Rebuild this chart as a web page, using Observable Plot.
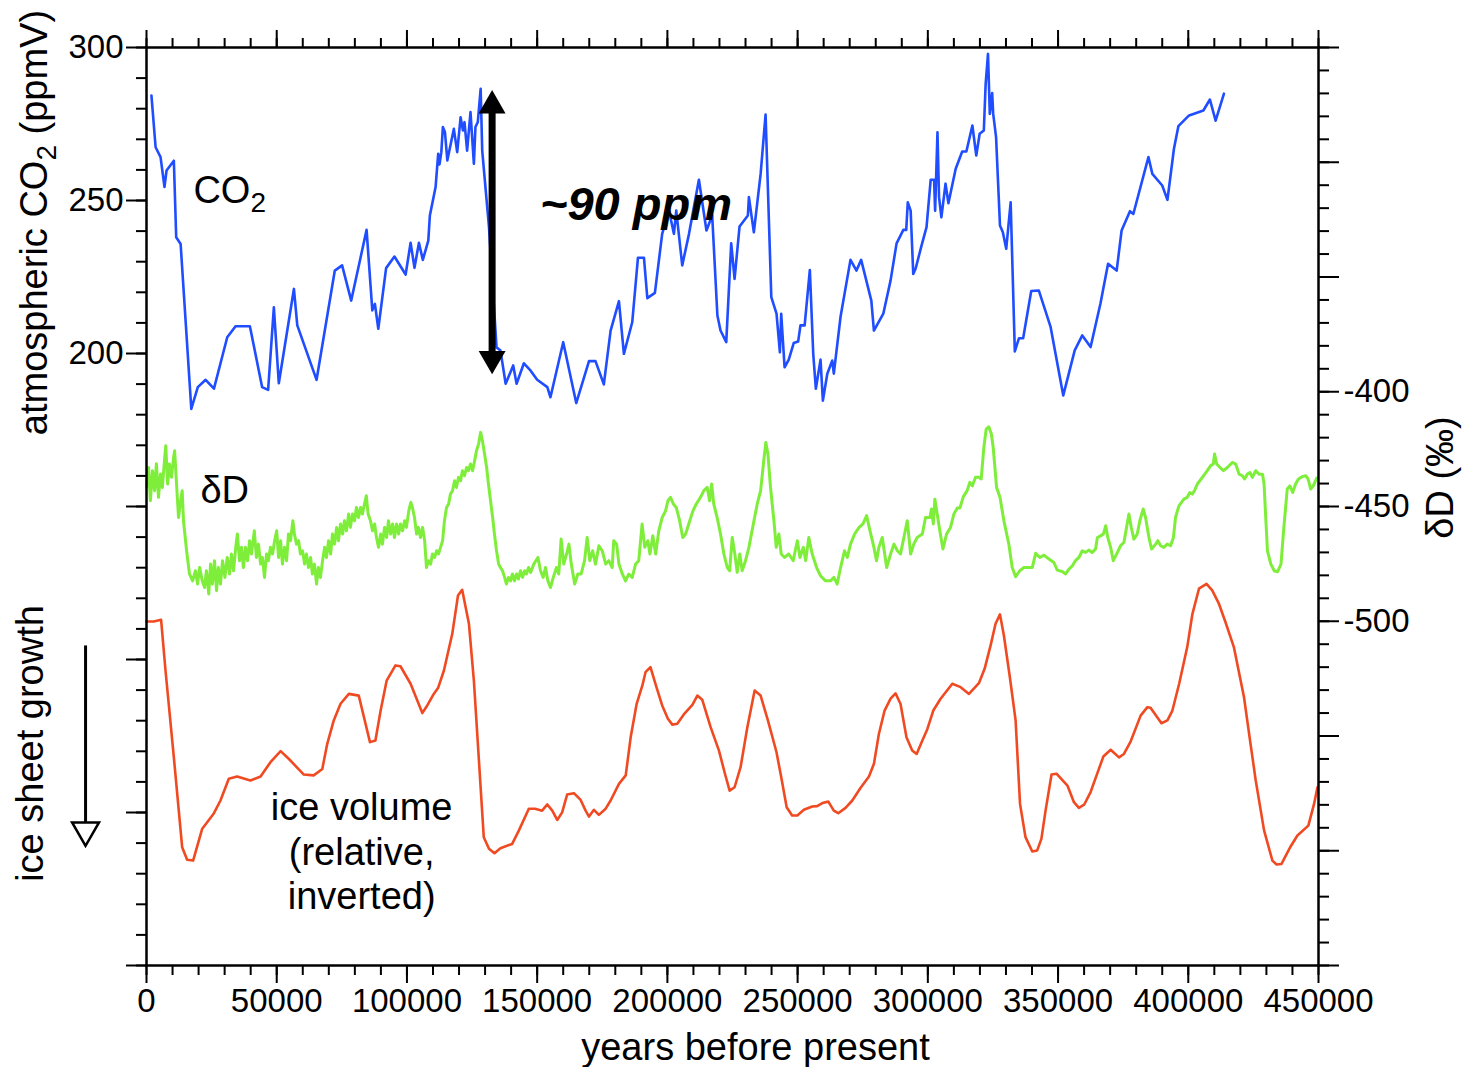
<!DOCTYPE html>
<html>
<head>
<meta charset="utf-8">
<script src="https://cdn.jsdelivr.net/npm/d3@7"></script>
<script src="https://cdn.jsdelivr.net/npm/@observablehq/plot@0.6"></script>
<style>
  html, body { margin: 0; padding: 0; background: white; }
  #chart svg { display: block; }
</style>
</head>
<body>
<div id="chart"></div>
<script>
// ---------- DATA (ages in kyr before present) ----------
// Atmospheric CO2 (ppmV)
const co2 = [[1.9,284.3],[3.5,267.4],[5.4,264.2],[6.9,254.4],[7.7,259.8],[10.5,263.0],[11.4,238.0],[13.1,235.8],[17.2,181.9],[19.7,189.0],[22.7,191.4],[25.9,188.5],[31.0,205.3],[34.2,208.9],[39.7,208.9],[44.4,189.0],[46.7,188.1],[48.9,215.1],[50.8,190.3],[56.6,221.1],[57.9,209.2],[65.3,191.4],[72.3,227.1],[75.1,228.8],[78.6,217.3],[84.5,240.4],[86.7,214.1],[87.7,216.2],[89.0,208.1],[92.0,227.9],[95.2,231.7],[99.5,225.8],[101.4,236.2],[102.9,228.0],[104.6,236.2],[106.1,230.6],[108.2,236.9],[108.8,245.1],[111.0,254.4],[112.0,265.3],[112.5,261.8],[113.2,265.8],[113.8,274.0],[114.6,272.3],[115.5,263.1],[118.0,273.4],[119.3,265.8],[120.6,277.2],[121.5,272.9],[122.1,275.6],[123.1,266.3],[124.4,278.9],[125.7,262.0],[126.3,274.0],[127.2,275.6],[128.3,286.5],[128.9,266.3],[131.5,241.3],[134.4,202.0],[135.9,201.0],[137.9,190.1],[140.8,196.1],[142.1,190.1],[144.9,196.8],[147.5,194.4],[150.0,191.4],[153.9,189.0],[155.1,185.7],[160.0,203.7],[165.0,183.8],[169.9,197.5],[172.4,197.5],[175.6,189.9],[178.2,207.5],[181.4,217.1],[183.3,199.9],[186.5,210.2],[188.7,231.3],[191.0,231.3],[192.3,218.1],[195.2,219.8],[198.0,239.1],[200.6,246.7],[202.5,239.1],[203.4,246.7],[205.7,228.8],[208.3,239.1],[212.1,256.8],[215.0,240.2],[217.2,245.1],[219.2,212.4],[220.4,207.5],[222.6,203.7],[224.5,236.0],[225.8,224.4],[227.7,241.5],[230.9,245.1],[231.3,251.1],[233.2,239.6],[235.8,258.7],[237.7,278.1],[239.9,218.4],[241.9,213.0],[243.2,200.4],[243.7,213.0],[245.0,195.5],[246.6,198.0],[248.5,203.4],[250.2,203.9],[251.1,209.2],[252.7,209.2],[254.7,227.3],[256.0,199.9],[257.0,188.5],[258.8,198.0],[259.7,184.6],[261.4,193.4],[263.3,197.7],[263.9,193.4],[266.5,212.1],[270.3,230.6],[272.6,227.1],[274.4,230.6],[278.3,217.3],[279.3,207.5],[282.9,213.0],[285.7,223.9],[288.0,236.0],[290.6,240.4],[291.7,240.4],[292.3,249.4],[293.4,246.7],[294.4,226.0],[295.3,227.7],[297.5,235.0],[299.5,241.3],[301.1,256.8],[302.4,256.8],[302.8,246.7],[303.7,272.3],[304.3,251.1],[305.2,244.5],[306.8,255.5],[307.9,249.1],[310.7,260.4],[313.2,266.0],[314.8,266.0],[317.1,274.5],[318.6,264.7],[319.9,271.8],[321.5,272.9],[322.2,288.1],[323.1,297.9],[323.8,278.3],[324.7,285.1],[325.1,278.3],[326.2,270.7],[327.7,241.8],[328.8,239.6],[330.1,234.2],[331.8,249.4],[333.4,200.7],[335.0,205.0],[336.6,205.0],[339.7,220.4],[342.6,220.6],[347.1,208.8],[352.0,186.3],[356.4,201.0],[359.3,205.9],[362.5,202.1],[366.3,216.4],[369.2,229.3],[372.5,227.1],[374.4,240.2],[377.6,246.5],[378.9,245.6],[384.7,264.2],[386.2,258.7],[390.0,254.9],[392.0,250.2],[394.5,266.9],[396.2,274.3],[400.3,277.8],[405.8,279.4],[408.3,283.0],[410.5,276.1],[413.7,284.9]];

// Deuterium deltaD (permil)
const deltaD = [[0.0,-441.7],[0.8,-433],[1.5,-447.5],[2.3,-434.4],[3.1,-443.1],[3.8,-431.4],[4.6,-446],[5.4,-435.8],[6.1,-441.7],[6.9,-430],[7.4,-423.5],[8.1,-440.2],[8.8,-431.5],[9.6,-437.3],[10.4,-428.6],[10.8,-425.7],[11.5,-439.5],[12.3,-454.8],[13.1,-447.5],[13.7,-443.1],[14.2,-456.2],[15.4,-469.3],[16.5,-479.4],[17.7,-482.4],[18.8,-478],[19.6,-483.8],[20.4,-476.6],[21.4,-482.4],[22.3,-485.3],[23.0,-478],[23.9,-488.1],[24.6,-475.1],[25.3,-483.8],[26.1,-473.6],[26.9,-486.7],[27.6,-476.6],[28.4,-483.8],[29.2,-473.6],[30.1,-480.9],[31.0,-472.2],[31.9,-479.4],[32.6,-470.7],[33.4,-478],[34.4,-466.4],[34.9,-462],[35.7,-473.6],[36.5,-467.8],[37.2,-476.6],[38.0,-467.8],[38.8,-473.6],[39.6,-464.9],[40.3,-470.7],[41.4,-460.6],[42.2,-472.2],[43.0,-466.4],[43.8,-475.1],[44.5,-472.2],[45.3,-480.9],[46.1,-470.7],[46.8,-473.6],[47.6,-467.8],[48.4,-470.7],[49.2,-464.9],[50.0,-460.6],[50.7,-472.2],[51.5,-464.9],[52.2,-475.1],[53.0,-467.8],[53.8,-473.6],[54.5,-462],[55.3,-464.9],[56.2,-456.2],[56.8,-462],[57.6,-466.4],[58.4,-464.9],[59.1,-470.7],[59.9,-469.3],[60.7,-475.1],[61.4,-470.7],[62.2,-476.6],[63.0,-472.2],[63.7,-479.4],[64.5,-475.1],[65.3,-483.8],[66.0,-476.6],[66.8,-480.9],[67.6,-473.6],[68.4,-467.8],[69.1,-472.2],[69.9,-464.9],[70.7,-470.7],[71.4,-462],[72.2,-466.4],[73.0,-459.1],[73.7,-464.9],[74.5,-457.6],[75.3,-462],[76.0,-456.2],[76.8,-460.6],[77.6,-453.3],[78.3,-459.1],[79.1,-453.3],[79.9,-456.2],[80.6,-450.4],[81.4,-454.8],[82.2,-450.4],[82.9,-453.3],[83.7,-448.9],[84.4,-445.3],[85.1,-453.3],[86.0,-456.2],[86.8,-460.6],[87.6,-457.6],[88.3,-463.5],[89.1,-467.8],[89.9,-462],[90.6,-466.4],[91.4,-459.1],[92.2,-463.5],[92.9,-456.2],[93.7,-462],[94.5,-457.6],[95.2,-463.5],[96.0,-457.6],[96.8,-462],[97.5,-457.6],[98.3,-460.6],[99.1,-456.2],[99.8,-459.1],[100.7,-451.9],[101.5,-448.2],[102.1,-450.4],[102.9,-454.8],[103.7,-462],[104.4,-459.1],[105.2,-463.5],[106.0,-459.1],[106.8,-464.9],[107.5,-476.6],[108.3,-473.6],[109.1,-475.1],[109.8,-470.7],[110.6,-472.2],[111.4,-469.3],[112.1,-470.7],[112.9,-467.8],[113.7,-464.9],[114.4,-456.2],[115.2,-450.4],[116.0,-448.9],[116.7,-444.6],[117.5,-443.1],[118.3,-438.8],[119.0,-441.7],[119.8,-437.3],[120.6,-438.8],[121.3,-434.4],[122.1,-436.6],[122.9,-433],[123.6,-434.4],[124.4,-431.5],[125.2,-434.4],[126.0,-430],[126.7,-425.7],[127.5,-422.8],[128.3,-417.7],[129.0,-421.4],[129.8,-427.1],[130.6,-433],[131.3,-440.2],[132.1,-447.5],[132.9,-454.8],[133.6,-462],[134.4,-469.3],[135.2,-475.1],[135.9,-476.6],[136.7,-478],[137.5,-480.9],[138.2,-483.8],[139.0,-480.9],[139.8,-482.4],[140.5,-479.4],[141.3,-482.4],[142.1,-479.4],[142.8,-481.6],[143.6,-478],[144.4,-480.9],[145.2,-478],[145.9,-479.4],[146.7,-476.6],[147.5,-478.7],[148.7,-475.1],[150.3,-472.2],[151.3,-478],[152.3,-480.9],[153.2,-476.6],[154.1,-482.4],[155.1,-485.3],[156.2,-480.9],[157.4,-476.6],[158.3,-479.4],[159.2,-464.2],[160.2,-475.1],[161.3,-470.7],[162.2,-466.4],[163.1,-475.1],[164.4,-483.8],[165.6,-479.4],[166.9,-479.4],[168.2,-473.6],[169.2,-463.5],[170.2,-473.6],[171.3,-469.3],[172.4,-475.1],[173.7,-467.1],[175.0,-469.3],[176.3,-475.1],[177.5,-473.6],[178.8,-476.6],[179.4,-464.9],[180.5,-466.4],[181.4,-475.1],[182.7,-479.4],[183.9,-482.4],[185.2,-479.4],[186.5,-480.9],[187.8,-475.1],[189.0,-473.6],[190.3,-457.6],[191.3,-467.8],[192.5,-464.9],[193.3,-470.7],[194.4,-462.7],[195.5,-470.7],[196.7,-460.6],[198.0,-454.8],[199.3,-451.9],[200.2,-447.5],[201.2,-446.0],[202.3,-448.9],[203.4,-450.4],[204.7,-456.2],[205.9,-463.5],[207.0,-462.0],[208.2,-457.6],[209.8,-451.9],[211.1,-448.9],[212.7,-446.0],[214.0,-443.1],[215.3,-441.7],[216.2,-447.5],[217.0,-440.2],[217.8,-448.9],[219.1,-454.8],[220.4,-462.0],[221.7,-470.7],[223.0,-476.6],[223.9,-478.0],[224.9,-463.5],[225.9,-470.7],[226.8,-478.7],[227.8,-470.7],[228.7,-478.0],[230.0,-473.6],[231.3,-467.8],[233.0,-457.6],[234.5,-448.9],[235.8,-443.1],[237.0,-430.0],[237.8,-422.1],[238.6,-427.1],[239.6,-441.7],[240.9,-456.2],[241.8,-467.8],[242.8,-462.0],[243.7,-470.7],[245.0,-472.2],[246.6,-470.7],[248.3,-473.6],[249.9,-464.9],[250.9,-472.2],[252.2,-467.8],[253.1,-473.6],[254.3,-463.5],[255.6,-470.7],[257.3,-476.6],[258.8,-480.2],[260.7,-482.4],[262.7,-482.4],[263.9,-480.9],[265.2,-483.8],[266.5,-476.6],[268.0,-469.3],[269.1,-472.2],[270.3,-466.4],[271.9,-462.0],[273.6,-459.1],[275.1,-457.6],[276.5,-454.0],[277.8,-460.6],[279.3,-467.8],[280.3,-473.6],[281.2,-467.8],[282.5,-463.5],[284.2,-476.6],[285.7,-470.7],[287.0,-466.4],[288.3,-469.3],[289.5,-470.7],[290.8,-463.5],[292.1,-456.2],[293.4,-470.7],[294.6,-466.4],[295.9,-463.5],[297.9,-462.0],[299.1,-454.8],[300.8,-454.8],[301.4,-451.1],[302.1,-457.6],[302.7,-446.8],[303.6,-453.3],[304.6,-460.6],[305.8,-468.5],[307.2,-462.0],[308.7,-459.1],[310.0,-453.3],[311.3,-450.7],[312.3,-450.7],[313.6,-445.8],[315.1,-443.1],[316.1,-439.5],[317.1,-441.0],[318.3,-437.3],[319.6,-437.3],[320.5,-438.0],[321.5,-424.3],[322.4,-416.3],[323.4,-415.3],[324.4,-418.4],[325.1,-424.3],[326.4,-441.7],[327.7,-446.0],[329.2,-456.2],[331.1,-466.4],[332.4,-476.6],[333.7,-480.6],[335.3,-478.0],[336.9,-476.6],[338.8,-476.6],[340.1,-476.6],[341.4,-470.4],[343.0,-472.2],[344.6,-471.2],[346.5,-472.9],[348.4,-474.4],[349.7,-477.7],[351.6,-478.3],[352.9,-479.4],[354.2,-477.3],[355.5,-475.8],[356.7,-473.6],[358.0,-472.2],[359.3,-469.3],[360.6,-470.0],[361.8,-469.0],[363.1,-470.0],[364.4,-468.5],[365.1,-463.5],[366.3,-462.8],[367.4,-462.0],[368.3,-458.4],[369.1,-463.5],[370.2,-467.8],[371.2,-473.6],[372.8,-470.0],[374.0,-467.1],[375.3,-465.6],[376.3,-459.1],[377.2,-453.3],[378.1,-459.1],[379.1,-464.2],[380.4,-462.0],[381.4,-456.2],[382.7,-451.1],[383.6,-454.8],[384.9,-463.5],[385.9,-468.5],[387.5,-466.4],[388.3,-464.9],[389.4,-467.1],[390.6,-467.8],[391.9,-466.4],[393.2,-467.1],[394.3,-463.5],[395.1,-454.8],[396.4,-449.7],[398.3,-446.8],[399.6,-446.0],[400.6,-443.9],[401.5,-444.6],[402.4,-443.1],[403.5,-440.2],[405.4,-437.3],[407.3,-434.4],[408.6,-432.2],[409.6,-431.5],[410.1,-427.1],[410.9,-431.5],[412.2,-433.0],[413.5,-434.4],[415.0,-433.0],[416.9,-430.8],[418.2,-431.5],[419.5,-435.9],[420.8,-436.6],[421.6,-438.0],[422.7,-435.9],[423.7,-435.2],[424.6,-437.3],[425.9,-434.4],[427.2,-435.9],[428.5,-435.9],[429.1,-440.2],[429.8,-456.2],[430.4,-469.3],[431.7,-475.1],[433.0,-478.0],[434.3,-478.4],[435.6,-475.1],[436.7,-459.1],[438.0,-442.4],[439.0,-441.0],[440.1,-443.9],[441.2,-440.2],[442.3,-438.0],[443.8,-437.0],[445.1,-436.6],[446.0,-438.0],[447.0,-442.4],[448.0,-441.0],[449.3,-437.6]];

// Ice volume (relative, 0 = least ice, 1 = most ice)
const iceVolume = [[0.0,0.138],[2.8,0.138],[5.6,0.132],[7.3,0.312],[10.5,0.620],[13.7,0.939],[15.6,0.983],[17.9,0.986],[21.4,0.873],[23.3,0.850],[25.9,0.818],[28.4,0.773],[31.6,0.696],[34.8,0.688],[39.9,0.702],[43.8,0.688],[47.6,0.637],[51.5,0.598],[54.6,0.625],[60.4,0.681],[64.2,0.684],[67.5,0.661],[69.4,0.572],[71.9,0.489],[74.5,0.430],[77.7,0.395],[81.5,0.401],[83.5,0.478],[85.8,0.566],[87.9,0.560],[89.9,0.454],[92.2,0.348],[95.6,0.294],[97.5,0.297],[101.4,0.359],[105.9,0.463],[107.8,0.436],[110.3,0.395],[112.0,0.373],[114.2,0.312],[117.4,0.182],[119.6,0.046],[121.2,0.026],[123.8,0.146],[125.7,0.348],[129.5,0.903],[131.5,0.944],[133.6,0.960],[135.9,0.942],[140.4,0.927],[143.0,0.879],[146.8,0.802],[149.2,0.802],[151.9,0.809],[153.9,0.787],[155.8,0.809],[157.7,0.842],[159.6,0.815],[161.5,0.752],[164.1,0.747],[166.7,0.771],[168.6,0.809],[169.9,0.830],[171.8,0.806],[173.7,0.824],[176.3,0.802],[178.2,0.773],[181.4,0.714],[184.0,0.684],[185.9,0.549],[188.2,0.430],[190.4,0.365],[191.6,0.318],[193.5,0.300],[195.8,0.371],[198.0,0.436],[200.2,0.483],[201.9,0.504],[203.8,0.501],[206.3,0.468],[209.6,0.434],[211.5,0.401],[213.4,0.416],[216.6,0.513],[219.8,0.596],[222.1,0.678],[223.9,0.738],[225.8,0.726],[228.1,0.655],[230.7,0.513],[233.5,0.383],[235.8,0.401],[238.6,0.489],[241.9,0.602],[243.7,0.690],[245.8,0.797],[247.9,0.826],[249.9,0.826],[252.4,0.806],[255.6,0.794],[257.5,0.793],[259.5,0.782],[261.8,0.777],[263.9,0.809],[265.6,0.818],[268.4,0.799],[271.0,0.773],[274.2,0.728],[277.4,0.688],[279.3,0.643],[281.2,0.537],[283.4,0.454],[285.7,0.412],[287.6,0.393],[289.5,0.430],[291.8,0.549],[294.0,0.596],[295.7,0.608],[297.9,0.560],[299.8,0.520],[302.1,0.454],[304.9,0.412],[309.4,0.359],[312.6,0.371],[315.8,0.395],[319.6,0.357],[321.8,0.306],[324.1,0.223],[326.0,0.146],[327.7,0.113],[329.2,0.188],[331.5,0.336],[333.7,0.489],[335.4,0.785],[337.5,0.903],[340.1,0.954],[342.0,0.950],[343.6,0.909],[345.2,0.809],[347.5,0.681],[349.4,0.678],[351.6,0.700],[353.6,0.720],[356.1,0.779],[358.0,0.799],[360.0,0.788],[362.5,0.743],[365.1,0.676],[367.4,0.617],[370.2,0.593],[373.4,0.620],[375.3,0.608],[377.9,0.563],[381.7,0.472],[384.3,0.442],[385.5,0.444],[389.7,0.499],[392.0,0.489],[393.9,0.454],[396.5,0.359],[399.6,0.229],[401.6,0.111],[404.1,0.022],[407.0,0.005],[409.2,0.028],[411.8,0.076],[414.3,0.141],[417.5,0.229],[421.4,0.407],[423.9,0.572],[425.9,0.702],[429.1,0.879],[432.3,0.986],[433.9,1.000],[435.8,0.998],[439.3,0.936],[441.9,0.897],[446.1,0.862],[448.3,0.785],[449.6,0.726]];

// Axis ticks and labels
const xMajorTicks = [0, 50000, 100000, 150000, 200000, 250000, 300000, 350000, 400000, 450000];
const xMinorTicks = d3.range(0, 450001, 10000);
const co2MajorTicks = [0, 50, 100, 150, 200, 250, 300];
const co2MinorTicks = d3.range(0, 301, 10);
const co2Labelled = [200, 250, 300];
const dDMajorTicks = [-650, -600, -550, -500, -450, -400, -350, -300, -250];
const dDMinorTicks = d3.range(-650, -249, 10);
const dDLabelled = [-500, -450, -400];

// Annotations (age kyr, value on the CO2 axis)
const seriesLabels = [
  {text: "CO\u2082", age: 18.0, y: 253.3},
  {text: "\u03B4D", age: 20.7, y: 155.2}
];
const iceLabel = [{text: "ice volume\n(relative,\ninverted)", age: 82.6, y: 37.6}];
const rangeLabel = [{text: "~90 ppm", age: 151.1, y: 248.4}];
const rangeArrow = [{age: 132.7, top: 281.0, bottom: 198.3}];
const growthArrow = [{age: -23.4, top: 104.6, bottom: 46.7, head: 44.2}];

// ---------- mappings of the secondary series onto the shared y scale ----------
const dDToY = v => (v + 650) * 0.75;             // right axis: -650..-250 permil
const yToDD = y => Math.round(y / 0.75 - 650);
const iceToY = v => 125.16 - 92.16 * v;            // inverted relative ice volume

const FONT = "'Liberation Sans', Arial, Helvetica, sans-serif";
const yrs = a => a * 1000;

const plot = Plot.plot({
  width: 1462,
  height: 1067,
  marginLeft: 146,
  marginRight: 144,
  marginTop: 47,
  marginBottom: 102,
  x: {domain: [0, 450000], label: null},
  y: {domain: [0, 300], label: null},
  style: {fontFamily: FONT, fontSize: "33px", background: "white", color: "black", overflow: "visible"},
  marks: [
    // minor & major ticks
    Plot.axisX({anchor: "bottom", ticks: xMinorTicks, tickSize: 10, strokeWidth: 2, tickFormat: () => ""}),
    Plot.axisX({anchor: "bottom", ticks: xMajorTicks, tickSize: 18, tickPadding: 5, strokeWidth: 2, tickFormat: d => String(d)}),
    Plot.axisX({anchor: "top", ticks: xMinorTicks, tickSize: 10, strokeWidth: 2, tickFormat: () => ""}),
    Plot.axisX({anchor: "top", ticks: xMajorTicks, tickSize: 18, strokeWidth: 2, tickFormat: () => ""}),
    Plot.axisY({anchor: "left", ticks: co2MinorTicks, tickSize: 10, strokeWidth: 2, tickFormat: () => ""}),
    Plot.axisY({anchor: "left", ticks: co2MajorTicks, tickSize: 20, tickPadding: 3, strokeWidth: 2,
      tickFormat: d => co2Labelled.includes(d) ? String(d) : ""}),
    Plot.axisY({anchor: "right", ticks: dDMinorTicks.map(dDToY), tickSize: 10, strokeWidth: 2, tickFormat: () => ""}),
    Plot.axisY({anchor: "right", ticks: dDMajorTicks.map(dDToY), tickSize: 20, tickPadding: 5, strokeWidth: 2,
      tickFormat: y => dDLabelled.includes(yToDD(y)) ? "-" + Math.abs(yToDD(y)) : ""}),

    // series
    Plot.line(iceVolume, {x: d => yrs(d[0]), y: d => iceToY(d[1]), stroke: "#f04a22", strokeWidth: 2.6}),
    Plot.line(deltaD, {x: d => yrs(d[0]), y: d => dDToY(d[1]), stroke: "#7eee3a", strokeWidth: 3}),
    Plot.line(co2, {x: d => yrs(d[0]), y: d => d[1], stroke: "#1f4dff", strokeWidth: 2.6}),

    Plot.frame({stroke: "black", strokeWidth: 2.5}),

    // ~90 ppm double arrow
    Plot.link(rangeArrow, {x1: d => yrs(d.age), x2: d => yrs(d.age), y1: d => d.top, y2: d => d.bottom, stroke: "black", strokeWidth: 7}),
    Plot.dot(rangeArrow, {x: d => yrs(d.age), y: d => d.top, symbol: "triangle", r: 10, fill: "black", stroke: "none"}),
    Plot.dot(rangeArrow, {x: d => yrs(d.age), y: d => d.bottom, symbol: "triangle", r: 10, fill: "black", stroke: "none", rotate: 180}),
    Plot.text(rangeLabel, {x: d => yrs(d.age), y: "y", text: "text", textAnchor: "start", lineAnchor: "middle",
      fontSize: 47, fontWeight: "bold", fontStyle: "italic", fill: "black"}),

    // series labels
    Plot.text(seriesLabels, {x: d => yrs(d.age), y: "y", text: "text", textAnchor: "start", lineAnchor: "middle", fontSize: 38, fill: "black"}),
    Plot.text(iceLabel, {x: d => yrs(d.age), y: "y", text: "text", textAnchor: "middle", lineAnchor: "middle", fontSize: 38, lineHeight: 1.16, fill: "black"}),

    // ice sheet growth arrow (left margin)
    Plot.link(growthArrow, {x1: d => yrs(d.age), x2: d => yrs(d.age), y1: d => d.top, y2: d => d.bottom, stroke: "black", strokeWidth: 3}),
    Plot.dot(growthArrow, {x: d => yrs(d.age), y: d => d.head, symbol: "triangle", r: 10, fill: "white", stroke: "black", strokeWidth: 2.5, rotate: 180}),

    // axis titles
    Plot.text(["years before present"], {frameAnchor: "bottom", dx: 23, dy: 82, textAnchor: "middle", lineAnchor: "middle", fontSize: 38, fill: "black"}),
    Plot.text(["atmospheric CO\u2082 (ppmV)"], {frameAnchor: "top-left", dx: -112, dy: 175, rotate: -90, textAnchor: "middle", lineAnchor: "middle", fontSize: 38, fill: "black"}),
    Plot.text(["ice sheet growth"], {frameAnchor: "top-left", dx: -116, dy: 696, rotate: -90, textAnchor: "middle", lineAnchor: "middle", fontSize: 38, fill: "black"}),
    Plot.text(["\u03B4D (\u2030)"], {frameAnchor: "top-right", dx: 122, dy: 430, rotate: -90, textAnchor: "middle", lineAnchor: "middle", fontSize: 38, fill: "black"})
  ]
});

// Render "₂" as a real subscript: larger digit, lowered baseline
const NS = "http://www.w3.org/2000/svg";
plot.querySelectorAll("text").forEach(t => {
  if (t.children.length || !t.textContent.includes("\u2082")) return;
  const [before, after] = t.textContent.split("\u2082");
  t.textContent = "";
  const a = document.createElementNS(NS, "tspan"); a.textContent = before; t.appendChild(a);
  const s = document.createElementNS(NS, "tspan"); s.textContent = "2";
  s.setAttribute("font-size", "28"); s.setAttribute("dy", "9"); t.appendChild(s);
  if (after) {
    const b = document.createElementNS(NS, "tspan"); b.textContent = after; b.setAttribute("dy", "-9"); t.appendChild(b);
  }
});

document.getElementById("chart").appendChild(plot);
</script>
</body>
</html>
